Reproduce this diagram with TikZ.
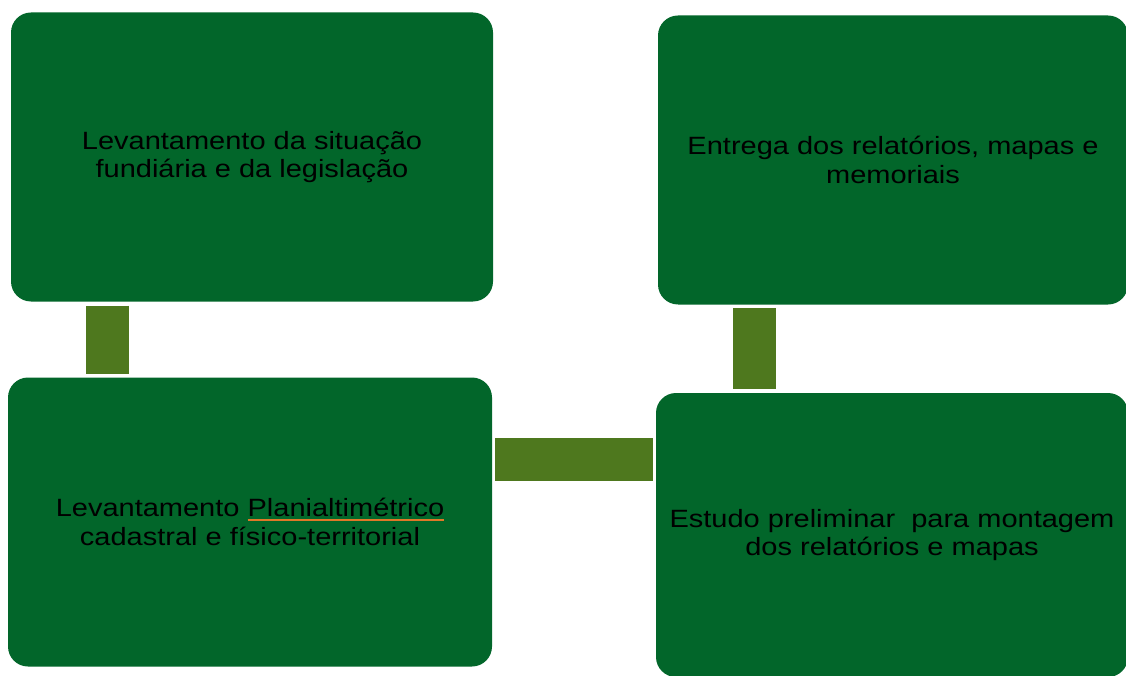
\documentclass[tikz,border=0pt]{standalone}
\usepackage{fontspec}
\setmainfont{Liberation Sans}[FakeStretch=1.16]
\usetikzlibrary{calc}
\definecolor{caixaverde}{RGB}{2,102,42}
\definecolor{elooliva}{RGB}{78,120,30}
\definecolor{sublinha}{RGB}{224,120,40}
\newcommand{\corretor}[1]{\setbox0\hbox{#1}\rlap{\textcolor{sublinha}{\rule[-0.16em]{\wd0}{1.6pt}}}\box0}

\begin{document}
\begin{tikzpicture}[x=1pt, y=-1pt,
  etapa/.style={fill=caixaverde, rounded corners=20pt, align=center, text=black,
    font=\fontsize{25}{28.5}\selectfont, inner sep=0pt},
  elo/.style={draw=elooliva, line width=43pt, line cap=butt}]
  % area da figura
  \useasboundingbox (0,0) rectangle (1126,676);
  % caixas
  \node[etapa, minimum width=482pt, minimum height=289pt] (lev) at (252,157)
    {Levantamento da situação\\fundiária e da legislação};
  \node[etapa, minimum width=470pt, minimum height=289pt] (ent) at (893,160)
    {Entrega dos relatórios, mapas e\\memoriais};
  \node[etapa, minimum width=484pt, minimum height=289pt] (plan) at (250,522)
    {Levantamento \corretor{Planialtimétrico}\\cadastral e físico-territorial};
  \node[etapa, minimum width=472pt, minimum height=284pt] (est) at (892,535)
    {Estudo preliminar\ \ para montagem\\dos relatórios e mapas};
  % ligacoes
  \draw[elo] ($(lev.south west)+(96.5,4)$) -- ($(plan.north west)+(99.5,-3)$);
  \draw[elo] ($(plan.east)+(3,-62.5)$) -- ($(est.west)+(-3,-75.5)$);
  \draw[elo] ($(est.north west)+(98.5,-4)$) -- ($(ent.south west)+(96.5,3)$);
\end{tikzpicture}
\end{document}
